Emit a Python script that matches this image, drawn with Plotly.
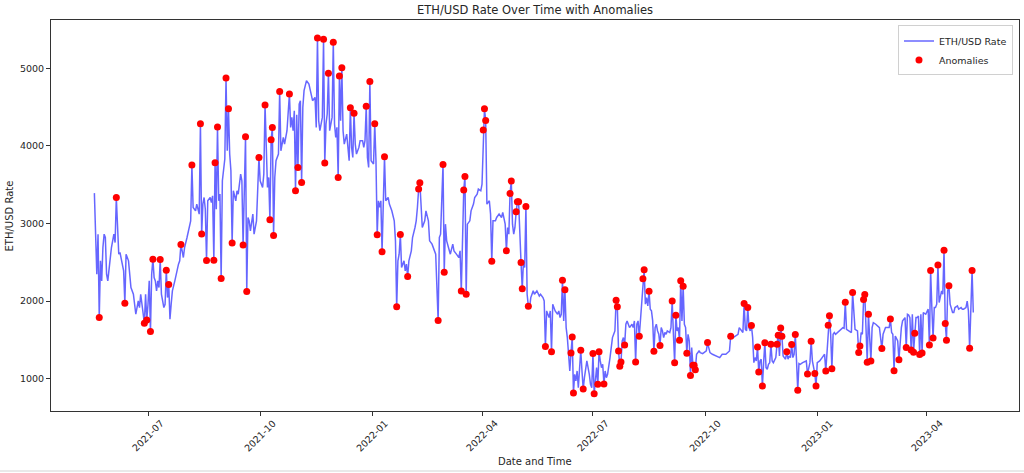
import plotly.graph_objects as go

# ---------------- data ----------------
rate_dates = [
    "2021-05-18", "2021-05-19", "2021-05-20", "2021-05-21", "2021-05-23", "2021-05-24", "2021-05-25", "2021-05-26",
    "2021-05-27", "2021-05-28", "2021-05-29", "2021-05-31", "2021-06-01", "2021-06-03", "2021-06-04", "2021-06-06",
    "2021-06-07", "2021-06-08", "2021-06-10", "2021-06-11", "2021-06-13", "2021-06-15", "2021-06-16", "2021-06-17",
    "2021-06-19", "2021-06-21", "2021-06-23", "2021-06-24", "2021-06-25", "2021-06-27", "2021-06-29", "2021-07-01",
    "2021-07-02", "2021-07-04", "2021-07-06", "2021-07-07", "2021-07-08", "2021-07-09", "2021-07-10", "2021-07-12",
    "2021-07-14", "2021-07-15", "2021-07-17", "2021-07-19", "2021-07-20", "2021-07-21", "2021-07-23", "2021-07-24",
    "2021-07-26", "2021-07-27", "2021-07-30", "2021-07-31", "2021-08-02", "2021-08-04", "2021-08-05", "2021-08-07",
    "2021-08-09", "2021-08-10", "2021-08-12", "2021-08-15", "2021-08-16", "2021-08-17", "2021-08-19", "2021-08-21",
    "2021-08-22", "2021-08-23", "2021-08-26", "2021-08-28", "2021-08-29", "2021-08-31", "2021-09-01", "2021-09-02",
    "2021-09-04", "2021-09-06", "2021-09-07", "2021-09-09", "2021-09-11", "2021-09-12", "2021-09-13", "2021-09-15",
    "2021-09-16", "2021-09-18", "2021-09-21", "2021-09-22",
    "2021-09-23", "2021-09-25", "2021-09-26", "2021-09-28", "2021-09-29", "2021-10-01", "2021-10-03", "2021-10-04",
    "2021-10-07", "2021-10-08", "2021-10-13", "2021-10-14", "2021-10-16", "2021-10-18", "2021-10-20", "2021-10-21",
    "2021-10-23", "2021-10-26", "2021-10-27", "2021-10-28", "2021-10-29", "2021-10-31", "2021-11-02", "2021-11-03",
    "2021-11-05", "2021-11-06", "2021-11-08", "2021-11-10", "2021-11-11", "2021-11-13", "2021-11-15", "2021-11-16",
    "2021-11-18", "2021-11-19", "2021-11-21", "2021-11-24", "2021-11-25", "2021-11-27", "2021-11-29", "2021-12-01",
    "2021-12-02", "2021-12-03", "2021-12-06", "2021-12-08", "2021-12-09", "2021-12-11", "2021-12-13", "2021-12-15",
    "2021-12-16", "2021-12-18", "2021-12-19", "2021-12-21", "2021-12-22", "2021-12-24", "2021-12-25", "2021-12-26",
    "2021-12-28", "2021-12-29", "2021-12-31", "2022-01-02", "2022-01-04", "2022-01-06", "2022-01-07", "2022-01-08",
    "2022-01-10", "2022-01-12", "2022-01-14", "2022-01-15", "2022-01-17", "2022-01-19", "2022-01-20", "2022-01-22",
    "2022-01-23", "2022-01-25", "2022-01-27", "2022-01-28", "2022-01-29",
    "2022-01-31", "2022-02-02", "2022-02-03", "2022-02-05", "2022-02-06", "2022-02-07", "2022-02-10", "2022-02-11",
    "2022-02-13", "2022-02-14", "2022-02-16", "2022-02-17", "2022-02-19", "2022-02-20", "2022-02-22", "2022-02-25",
    "2022-02-26", "2022-03-02", "2022-03-03", "2022-03-05", "2022-03-06", "2022-03-08", "2022-03-09", "2022-03-11",
    "2022-03-13", "2022-03-14", "2022-03-16", "2022-03-20", "2022-03-22", "2022-03-23", "2022-03-25", "2022-03-26",
    "2022-03-28", "2022-03-29", "2022-03-31", "2022-04-01", "2022-04-05", "2022-04-07", "2022-04-08", "2022-04-10",
    "2022-04-12", "2022-04-13", "2022-04-15", "2022-04-17", "2022-04-18", "2022-04-20", "2022-04-22", "2022-04-23",
    "2022-04-26", "2022-04-27", "2022-04-28", "2022-05-02", "2022-05-05", "2022-05-06", "2022-05-08", "2022-05-10",
    "2022-05-11", "2022-05-13", "2022-05-14", "2022-05-16", "2022-05-18", "2022-05-19", "2022-05-21", "2022-05-22",
    "2022-05-24", "2022-05-26", "2022-05-27", "2022-05-29", "2022-05-31", "2022-06-02", "2022-06-03", "2022-06-04",
    "2022-06-05", "2022-06-07", "2022-06-09", "2022-06-10",
    "2022-06-11", "2022-06-12", "2022-06-16", "2022-06-17", "2022-06-18", "2022-06-19", "2022-06-20", "2022-06-22",
    "2022-06-24", "2022-06-25", "2022-06-26", "2022-06-28", "2022-06-29", "2022-06-30", "2022-07-03", "2022-07-04",
    "2022-07-07", "2022-07-08", "2022-07-09", "2022-07-11", "2022-07-12", "2022-07-13", "2022-07-14", "2022-07-15",
    "2022-07-16", "2022-07-17", "2022-07-18", "2022-07-19", "2022-07-25", "2022-07-26", "2022-07-28", "2022-07-29",
    "2022-07-30", "2022-07-31", "2022-08-02", "2022-08-03", "2022-08-04", "2022-08-06", "2022-08-07", "2022-08-09",
    "2022-08-10", "2022-08-13", "2022-08-14", "2022-08-15", "2022-08-17", "2022-08-18", "2022-08-19", "2022-08-21",
    "2022-08-22", "2022-08-23", "2022-08-24", "2022-08-26", "2022-08-27", "2022-08-28", "2022-08-29", "2022-08-30",
    "2022-08-31", "2022-09-02", "2022-09-03", "2022-09-05", "2022-09-08", "2022-09-09", "2022-09-12", "2022-09-14",
    "2022-09-15", "2022-09-17", "2022-09-18", "2022-09-20", "2022-09-24", "2022-09-26", "2022-09-27", "2022-09-29",
    "2022-10-02", "2022-10-05", "2022-10-07", "2022-10-10", "2022-10-13", "2022-10-15",
    "2022-10-18", "2022-10-21", "2022-10-24", "2022-10-26", "2022-10-28", "2022-10-29", "2022-10-30", "2022-11-01",
    "2022-11-03", "2022-11-04", "2022-11-06", "2022-11-07", "2022-11-09", "2022-11-10", "2022-11-11", "2022-11-12",
    "2022-11-15", "2022-11-16", "2022-11-18", "2022-11-20", "2022-11-21", "2022-11-22", "2022-11-23", "2022-11-25",
    "2022-11-26", "2022-11-28", "2022-12-01", "2022-12-04", "2022-12-05", "2022-12-06", "2022-12-08", "2022-12-09",
    "2022-12-10", "2022-12-12", "2022-12-13", "2022-12-15", "2022-12-17", "2022-12-18", "2022-12-20", "2022-12-23",
    "2022-12-26", "2022-12-28", "2023-01-01", "2023-01-03", "2023-01-05", "2023-01-07", "2023-01-09", "2023-01-12",
    "2023-01-14", "2023-01-15", "2023-01-16", "2023-01-19", "2023-01-22", "2023-01-23", "2023-01-25", "2023-01-27",
    "2023-01-29", "2023-02-01", "2023-02-03", "2023-02-06", "2023-02-07", "2023-02-10", "2023-02-13", "2023-02-15",
    "2023-02-16", "2023-02-18", "2023-02-21", "2023-02-24",
    "2023-02-26", "2023-03-01", "2023-03-03", "2023-03-04", "2023-03-06", "2023-03-08", "2023-03-10", "2023-03-11",
    "2023-03-12", "2023-03-14", "2023-03-16", "2023-03-17", "2023-03-18", "2023-03-20", "2023-03-23", "2023-03-24",
    "2023-03-25", "2023-03-27", "2023-03-29", "2023-03-31", "2023-04-02", "2023-04-05", "2023-04-07", "2023-04-08",
    "2023-04-09", "2023-04-11", "2023-04-12", "2023-04-13", "2023-04-14", "2023-04-18", "2023-04-20", "2023-04-21",
    "2023-04-22", "2023-04-23", "2023-04-24", "2023-04-26", "2023-04-27", "2023-04-29", "2023-04-30", "2023-05-01",
    "2023-05-03", "2023-05-04", "2023-05-05", "2023-05-07", "2023-05-09",
]
rate_values = [
    3391, 2948, 2346, 2862, 2518, 2260, 2690, 2862,
    2819, 2346, 2260, 2604, 2690, 2862, 2754, 2819,
    2604, 2626, 2475, 2389, 2604, 2518, 2346, 2174,
    2088, 1830, 2002, 1916, 2088, 1830, 2088, 1959,
    2260, 2346, 2303, 2260, 2131, 2260, 2174, 2088,
    1916, 1959, 2045, 1765, 1959, 2131, 2260, 2346,
    2475, 2518, 2561, 2690, 2819, 2948, 3034, 3206,
    3163, 3249, 3120, 3249, 3335, 3184, 3292, 3335,
    3270, 3356, 3184, 3292, 3378, 3550, 3722, 3830,
    3937, 3894, 3679, 3421, 3292, 3421, 3378, 3636,
    3550, 3292, 3077, 3034,
    2905, 3120, 2862, 3034, 3378, 3550, 3464, 3636,
    3464, 3593, 3593, 3808, 3894, 3937, 4109, 4023,
    4195, 4238, 4367, 4195, 4453, 4400, 4539, 4582,
    4496, 4711, 4840, 4797, 4711, 4582, 4625, 4238,
    4324, 4195, 4367, 4281, 4410, 4195, 4367, 4281,
    4109, 4238, 4324, 4195, 4023, 4152, 3808, 3980,
    3851, 4023, 3894, 3980, 4066, 4066, 3980, 4066,
    3851, 3722, 3808, 3765, 3808, 3292, 3206, 3292,
    3378, 3292, 3335, 3249, 3163, 3034, 2776, 2518,
    2604, 2432, 2518, 2389, 2475,
    2518, 2647, 2819, 2948, 3034, 3206, 3120, 2948,
    3034, 3163, 3034, 2776, 2733, 2690, 2604, 2819,
    2862, 2991, 2776, 2647, 2604, 2733, 2647, 2604,
    2561, 2647, 2776, 2991, 3034, 3163, 3249, 3335,
    3378, 3443, 3421, 3507, 3249, 3292, 3120, 3034,
    3034, 3077, 3120, 3077, 3142, 2991, 2948, 2862,
    2991, 2862, 2948, 2776, 2518, 2432, 2088, 1916,
    2045, 2131, 2088, 2131, 2066, 2088, 2045, 2002,
    1873, 1787, 1873, 1959, 1873, 1830, 1873, 1787,
    1830, 1744, 1658, 1529,
    1228, 1100, 1056, 970, 1099, 884, 1142, 1099,
    1013, 1142, 1228, 1056, 927, 884, 1013, 1142,
    1228, 1142, 1185, 1099, 1013, 1056, 1142, 1271,
    1400, 1529, 1572, 1615, 1486, 1529, 1701, 1744,
    1701, 1658, 1701, 1658, 1744, 1701, 1744, 1787,
    1916, 1959, 2045, 1938, 1895, 1873, 1744, 1658,
    1701, 1615, 1572, 1658, 1615, 1529, 1594, 1572,
    1615, 1594, 1658, 1572, 1615, 1658, 1744, 1701,
    1658, 1572, 1486, 1400, 1314, 1357, 1336, 1323,
    1357, 1336, 1314, 1293, 1271, 1314,
    1314, 1357, 1529, 1550, 1572, 1658, 1636, 1594,
    1636, 1615, 1658, 1615, 1529, 1206, 1271, 1228,
    1228, 1250, 1206, 1142, 1121, 1185, 1206, 1228,
    1206, 1271, 1293, 1293, 1271, 1250, 1250, 1293,
    1271, 1271, 1314, 1228, 1194, 1185, 1206, 1228,
    1206, 1228, 1206, 1228, 1271, 1314, 1336, 1572,
    1572, 1594, 1572, 1615, 1658, 1650, 1636, 1615,
    1594, 1636, 1615, 1594, 1572, 1615, 1529, 1658,
    1722, 1701, 1658, 1572,
    1658, 1658, 1594, 1572, 1550, 1486, 1529, 1658,
    1744, 1787, 1830, 1821, 1787, 1830, 1787, 1787,
    1808, 1830, 1852, 1830, 1895, 1916, 1916, 1916,
    1959, 1980, 2088, 2131, 2088, 2131, 1959, 1916,
    1852, 1852, 1916, 1938, 1895, 1916, 1895, 1895,
    1916, 1998, 1873, 1852, 1852,
]

anomaly_dates = [
    "2021-05-22", "2021-06-05", "2021-06-12", "2021-06-28", "2021-06-30", "2021-07-03", "2021-07-05", "2021-07-11",
    "2021-07-16", "2021-07-18", "2021-07-28", "2021-08-06", "2021-08-13", "2021-08-14", "2021-08-18", "2021-08-24",
    "2021-08-25", "2021-08-27", "2021-08-30", "2021-09-03", "2021-09-05", "2021-09-08", "2021-09-17", "2021-09-19",
    "2021-09-20", "2021-09-30", "2021-10-05", "2021-10-09", "2021-10-10", "2021-10-11", "2021-10-12", "2021-10-17",
    "2021-10-25", "2021-10-30", "2021-11-01", "2021-11-04", "2021-11-17", "2021-11-22", "2021-11-23", "2021-11-26",
    "2021-11-30", "2021-12-04", "2021-12-05", "2021-12-07", "2021-12-14", "2021-12-17", "2021-12-27", "2021-12-30",
    "2022-01-03", "2022-01-05", "2022-01-09", "2022-01-11", "2022-01-21", "2022-01-24", "2022-01-30", "2022-02-08",
    "2022-02-09", "2022-02-24", "2022-02-28", "2022-03-01", "2022-03-15", "2022-03-17", "2022-03-18", "2022-03-19",
    "2022-04-02", "2022-04-03", "2022-04-04", "2022-04-09", "2022-04-21", "2022-04-24", "2022-04-25", "2022-04-29",
    "2022-04-30", "2022-05-01", "2022-05-03", "2022-05-04", "2022-05-07", "2022-05-09", "2022-05-23", "2022-05-28",
    "2022-06-06", "2022-06-08", "2022-06-13", "2022-06-14", "2022-06-15", "2022-06-21", "2022-06-23", "2022-07-01",
    "2022-07-02", "2022-07-05", "2022-07-06", "2022-07-10", "2022-07-20", "2022-07-21", "2022-07-22", "2022-07-23",
    "2022-07-24", "2022-07-27", "2022-08-05", "2022-08-08", "2022-08-11", "2022-08-12", "2022-08-16", "2022-08-20",
    "2022-08-25", "2022-09-04", "2022-09-06", "2022-09-07", "2022-09-10", "2022-09-11", "2022-09-13", "2022-09-16",
    "2022-09-19", "2022-09-21", "2022-09-22", "2022-09-23", "2022-10-03", "2022-10-22", "2022-11-02", "2022-11-05",
    "2022-11-08", "2022-11-13", "2022-11-14", "2022-11-17", "2022-11-19", "2022-11-24", "2022-11-29", "2022-11-30",
    "2022-12-02", "2022-12-03", "2022-12-07", "2022-12-11", "2022-12-14", "2022-12-16", "2022-12-24", "2022-12-27",
    "2022-12-30", "2022-12-31", "2023-01-08", "2023-01-10", "2023-01-11", "2023-01-13", "2023-01-24", "2023-01-30",
    "2023-02-04", "2023-02-05", "2023-02-08", "2023-02-09", "2023-02-11", "2023-02-12", "2023-02-14", "2023-02-23",
    "2023-03-02", "2023-03-05", "2023-03-09", "2023-03-15", "2023-03-19", "2023-03-21", "2023-03-22", "2023-03-26",
    "2023-03-28", "2023-04-03", "2023-04-04", "2023-04-06", "2023-04-10", "2023-04-15", "2023-04-16", "2023-04-17",
    "2023-04-19", "2023-05-06", "2023-05-08",
]
anomaly_values = [
    1787, 3335, 1973, 1715, 1757, 1606, 2540, 2535,
    2398, 2213, 2729, 3753, 4286, 2863, 2522, 2527,
    3783, 4243, 2290, 4875, 4479, 2747, 2721, 4118,
    2122, 3851, 4527, 3047, 4079, 4238, 2845, 4702,
    4669, 3421, 3722, 3528, 5391, 5373, 3779, 4935,
    5334, 3593, 4901, 5008, 4492, 4419, 4509, 4831,
    4286, 2854, 2634, 3860, 1925, 2858, 2316, 3443,
    3524, 1748, 3761, 2372, 2131, 3430, 3606, 2088,
    4204, 4479, 4328, 2514, 2647, 3387, 3546, 3150,
    3279, 3279, 2497, 2157, 3219, 1934, 1413, 1348,
    2269, 2144, 1332, 1538, 816, 1366, 867, 1323,
    806, 928, 1348, 932, 2011, 1925, 1357, 1160,
    1215, 1435, 1215, 1547, 2286, 2402, 2127, 1353,
    1426, 2002, 1206, 1818, 1495, 2260, 2192, 1328,
    1039, 1173, 1173, 1116, 1465, 1547, 1968, 1916,
    1684, 1409, 1086, 906, 1461, 1444, 1444, 1560,
    1654, 1547, 1348, 1439, 1568, 850, 1061, 1482,
    1065, 906, 1099, 1689, 1809, 1129, 1985, 2109,
    1336, 1422, 2019, 2084, 1211, 1831, 1228, 1387,
    1770, 1103, 1245, 1400, 1370, 1340, 1586, 1310,
    1332, 1435, 2393, 1525, 2463, 2656, 1710, 1495,
    2196, 1392, 2393,
]

x_tick_labels = ["2021-07", "2021-10", "2022-01", "2022-04", "2022-07", "2022-10", "2023-01", "2023-04"]
y_tick_values = [1000, 2000, 3000, 4000, 5000]

# The rate line passes through each anomaly point (the spikes).
merged = dict(zip(rate_dates, rate_values))
merged.update(dict(zip(anomaly_dates, anomaly_values)))
line_dates = sorted(merged)
line_values = [merged[d] for d in line_dates]

FONT = "DejaVu Sans"
TXT = "#262626"

fig = go.Figure()
fig.add_trace(go.Scatter(
    x=line_dates, y=line_values, mode="lines", name="ETH/USD Rate",
    line=dict(color="rgba(0,0,255,0.6)", width=1.5),
))
fig.add_trace(go.Scatter(
    x=anomaly_dates, y=anomaly_values, mode="markers", name="Anomalies",
    marker=dict(color="red", size=7, line=dict(width=0)),
))

# rotated date labels, centred under each tick like matplotlib
for lab in x_tick_labels:
    fig.add_annotation(
        x=lab + "-01", xref="x", y=-0.0626, yref="paper",
        text=lab, textangle=-45, showarrow=False,
        xanchor="center", yanchor="middle",
        font=dict(family=FONT, size=9.5, color=TXT),
    )
fig.add_annotation(
    x=0.5, xref="paper", y=-0.128, yref="paper", text="Date and Time",
    showarrow=False, xanchor="center", yanchor="middle",
    font=dict(family=FONT, size=10, color=TXT),
)
fig.add_annotation(
    x=-0.0424, xref="paper", y=0.5, yref="paper", text="ETH/USD Rate",
    textangle=-90, showarrow=False, xanchor="center", yanchor="middle",
    font=dict(family=FONT, size=10, color=TXT),
)
# thin grey line at the very bottom of the screenshot
fig.add_shape(type="line", xref="paper", yref="paper",
              x0=-0.06, x1=1.01, y0=-0.1533, y1=-0.1533,
              line=dict(color="#e2e2e2", width=1.5))

fig.update_layout(
    width=1024, height=473,
    margin=dict(l=51, r=5, t=20, b=62),
    paper_bgcolor="white", plot_bgcolor="white",
    title=dict(text="ETH/USD Rate Over Time with Anomalies", x=0.5225, xanchor="center",
               y=1 - 10 / 473, yanchor="middle", yref="container",
               font=dict(family=FONT, size=11.5, color=TXT)),
    font=dict(family=FONT, size=9.5, color=TXT),
    showlegend=True,
    legend=dict(x=0.9938, xanchor="right", y=0.986, yanchor="top",
                bgcolor="rgba(255,255,255,0.9)", bordercolor="#d0d0d0", borderwidth=1,
                font=dict(family=FONT, size=9.5, color=TXT), tracegroupgap=0,
                itemwidth=30),
    xaxis=dict(
        type="date", range=["2021-04-12 10:00", "2023-06-15 12:00"],
        tickvals=[l + "-01" for l in x_tick_labels], showticklabels=False,
        ticks="outside", ticklen=4, tickcolor="#333", showgrid=False, zeroline=False,
        showline=True, mirror=True, linecolor="#333", linewidth=1,
    ),
    yaxis=dict(
        range=[583, 5622], tickvals=y_tick_values,
        ticktext=[str(v) for v in y_tick_values],
        ticks="outside", ticklen=4, tickcolor="#333", showgrid=False, zeroline=False,
        showline=True, mirror=True, linecolor="#333", linewidth=1,
        tickfont=dict(family=FONT, size=9.5, color=TXT),
    ),
)

fig.write_html("out.html")
